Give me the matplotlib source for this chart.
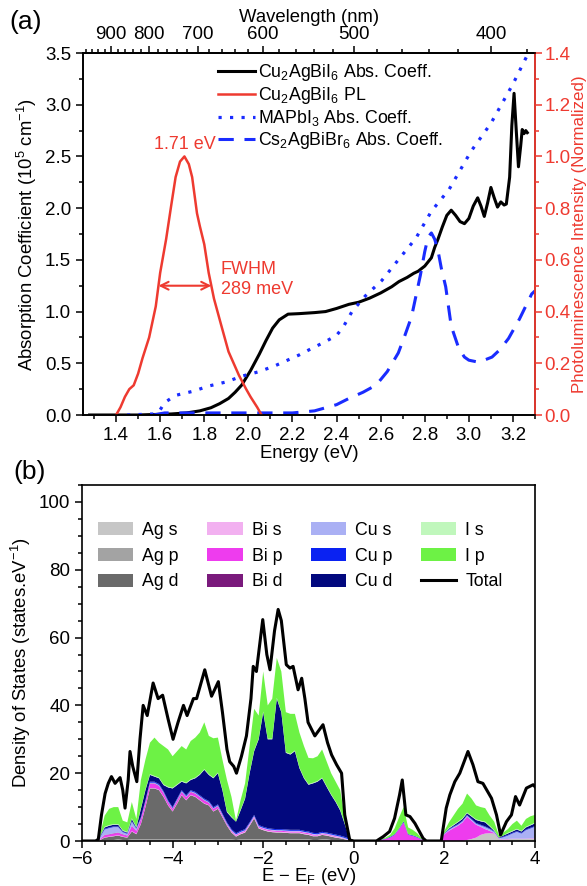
import numpy as np
import matplotlib
matplotlib.use("Agg")
import matplotlib.pyplot as plt
from matplotlib.ticker import MultipleLocator, FixedLocator, FormatStrFormatter

plt.rcParams['font.family'] = ['Liberation Sans', 'DejaVu Sans']
plt.rcParams['mathtext.fontset'] = 'custom'
plt.rcParams['mathtext.rm'] = 'Liberation Sans'
plt.rcParams['mathtext.it'] = 'Liberation Sans:italic'
plt.rcParams['mathtext.bf'] = 'Liberation Sans:bold'
plt.rcParams['mathtext.sf'] = 'Liberation Sans'
plt.rcParams['axes.linewidth'] = 1.2

RED = "#ee3a30"
BLUE = "#1a2cff"

# ---------------- (a) absorption / PL ----------------
cu_abs_e = [1.28, 1.50, 1.65, 1.72, 1.78, 1.83, 1.87, 1.91, 1.94, 1.97, 2.01, 2.05,
            2.08, 2.11, 2.14, 2.18, 2.23, 2.30, 2.35, 2.40, 2.456, 2.50, 2.55, 2.60,
            2.65, 2.683, 2.72, 2.75, 2.77, 2.80, 2.83, 2.845, 2.86, 2.88, 2.90, 2.92,
            2.94, 2.96, 2.98, 3.00, 3.02, 3.04, 3.055, 3.07, 3.085, 3.10, 3.115, 3.13,
            3.145, 3.16, 3.17, 3.185, 3.195, 3.205, 3.215, 3.225, 3.235, 3.242, 3.25,
            3.258, 3.265]
cu_abs_v = [0.0, 0.0, 0.01, 0.02, 0.04, 0.07, 0.11, 0.16, 0.22, 0.29, 0.43, 0.59,
            0.72, 0.84, 0.92, 0.975, 0.98, 0.99, 1.00, 1.03, 1.07, 1.09, 1.13, 1.18,
            1.24, 1.29, 1.33, 1.37, 1.39, 1.44, 1.52, 1.62, 1.70, 1.82, 1.93, 1.98,
            1.93, 1.87, 1.85, 1.90, 2.02, 2.10, 2.02, 1.92, 2.05, 2.20, 2.10, 2.01,
            2.06, 2.03, 2.04, 2.30, 2.80, 3.11, 2.75, 2.40, 2.60, 2.76, 2.72,
            2.75, 2.73]

pl_e = [1.40, 1.42, 1.44, 1.46, 1.48, 1.50, 1.52, 1.55, 1.58, 1.60, 1.627, 1.65,
        1.67, 1.69, 1.71, 1.73, 1.745, 1.767, 1.78, 1.80, 1.82, 1.844, 1.876, 1.91,
        1.957, 1.99, 2.01, 2.04, 2.06]
pl_v = [0.0, 0.03, 0.07, 0.10, 0.115, 0.16, 0.22, 0.30, 0.42, 0.55, 0.68, 0.81,
        0.92, 0.98, 1.0, 0.97, 0.92, 0.78, 0.73, 0.66, 0.55, 0.45, 0.35, 0.245,
        0.154, 0.10, 0.07, 0.03, 0.0]

mapi_e = [1.45, 1.57, 1.60, 1.62, 1.67, 1.75, 1.82, 1.90, 1.97, 2.05, 2.125, 2.23,
          2.275, 2.35, 2.40, 2.43, 2.47, 2.53, 2.605, 2.68, 2.76, 2.83, 2.91, 3.01,
          3.10, 3.20, 3.27]
mapi_v = [0.0, 0.01, 0.05, 0.12, 0.19, 0.23, 0.28, 0.32, 0.375, 0.42, 0.48, 0.58,
          0.63, 0.71, 0.77, 0.85, 1.0, 1.15, 1.30, 1.50, 1.71, 1.97, 2.18, 2.55,
          2.82, 3.20, 3.50]

csab_e = [1.57, 1.62, 1.80, 2.00, 2.20, 2.30, 2.40, 2.456, 2.52, 2.58, 2.63, 2.68,
          2.71, 2.74, 2.76, 2.78, 2.80, 2.815, 2.83, 2.845, 2.86, 2.875, 2.895, 2.92,
          2.955, 2.98, 3.00, 3.045, 3.105, 3.14, 3.18, 3.23, 3.285, 3.30]
csab_v = [0.0, 0.02, 0.02, 0.02, 0.02, 0.04, 0.10, 0.16, 0.22, 0.29, 0.42, 0.60,
          0.77, 0.95, 1.15, 1.35, 1.58, 1.72, 1.76, 1.70, 1.59, 1.42, 1.24, 0.86,
          0.64, 0.56, 0.53, 0.51, 0.56, 0.63, 0.74, 0.93, 1.17, 1.20]

pl_peak = 1.71

# ---------------- (b) projected DOS ----------------
dos_e = np.round(np.linspace(-6.0, 4.0, 101), 1)

ag_s = ([0.0] * 4 +
        [0.1, 0.2, 0.2, 0.2, 0.2, 0.2, 0.2, 0.2, 0.2, 0.2, 0.2, 0.2, 0.2, 0.2,
         0.2, 0.2, 0.2, 0.2, 0.2, 0.2, 0.2, 0.2, 0.2, 0.2, 0.2, 0.2, 0.2, 0.2,
         0.2, 0.2, 0.2, 0.2, 0.2, 0.2, 0.2, 0.2, 0.2, 0.2, 0.2, 0.2, 0.2, 0.2,
         0.2, 0.2, 0.2, 0.2, 0.2, 0.2, 0.2, 0.2, 0.2, 0.2, 0.2, 0.2, 0.2, 0.1] +
        [0.0] * 20 +
        [0.0, 0.0, 0.0, 0.0, 0.0, 0.3, 0.6, 1.0, 1.8, 2.2, 2.3, 2.2, 0.6, 0.4,
         0.5, 0.6, 0.6, 0.6, 0.6, 0.7, 0.7])
ag_p = ([0.0] * 4 +
        [0.1, 0.1, 0.1, 0.1, 0.3, 0.1, 0.1, 0.3, 0.3, 0.3, 0.3, 0.3, 0.3, 0.3,
         0.3, 0.3, 0.3, 0.3, 0.3, 0.3, 0.3, 0.3, 0.3, 0.3, 0.3, 0.3, 0.3, 0.3,
         0.3, 0.3, 0.1, 0.3, 0.3, 0.3, 0.3, 0.3, 0.3, 0.3, 0.3, 0.3, 0.3, 0.3,
         0.3, 0.3, 0.3, 0.3, 0.3, 0.1, 0.1, 0.3, 0.3, 0.1, 0.1, 0.1, 0.1, 0.0] +
        [0.0] * 41)
ag_d = ([0.0] * 4 +
        [0.1, 0.7, 0.9, 1.1, 1.1, 0.9, 0.7, 2.3, 1.5, 4.5, 9.5, 15.0, 15.0, 14.5,
         12.5, 10.0, 8.2, 10.5, 13.0, 11.5, 13.0, 12.5, 11.5, 10.5, 10.0, 8.2, 9.0, 6.5,
         4.0, 2.0, 1.0, 1.5, 2.0, 4.0, 6.2, 3.2, 2.7, 2.3, 2.1, 2.0, 2.0, 1.9,
         1.8, 1.8, 1.8, 1.5, 1.3, 1.1, 1.1, 1.3, 1.1, 1.0, 0.7, 0.5, 0.2, 0.0] +
        [0.0] * 41)
bi_s = ([0.0] * 4 +
        [0.1, 0.1, 0.1, 0.1, 0.1, 0.1, 0.1, 0.1, 0.1, 0.1, 0.1, 0.1, 0.1, 0.1,
         0.1, 0.1, 0.1, 0.1, 0.1, 0.1, 0.1, 0.1, 0.1, 0.1, 0.1, 0.1, 0.1, 0.1,
         0.1, 0.2, 0.2, 0.2, 0.2, 0.2, 0.2, 0.2, 0.2, 0.2, 0.2, 0.2, 0.2, 0.2,
         0.2, 0.2, 0.2, 0.2, 0.2, 0.2, 0.2, 0.2, 0.2, 0.2, 0.2, 0.2, 0.1, 0.1] +
        [0.0] * 41)
bi_p = ([0.0] * 4 +
        [0.2, 0.6, 0.6, 0.7, 0.7, 0.6, 0.4, 1.5, 0.8, 1.3, 1.3, 1.3, 1.3, 1.1,
         1.0, 0.8, 0.6, 0.8, 0.8, 0.8, 0.8, 0.8, 0.8, 0.8, 0.6, 0.6, 0.6, 0.4,
         0.3, 0.3, 0.3, 0.3, 0.3, 0.3, 0.3, 0.3, 0.3, 0.3, 0.3, 0.3, 0.3, 0.3,
         0.3, 0.3, 0.3, 0.3, 0.3, 0.3, 0.2, 0.2, 0.2, 0.2, 0.2, 0.1, 0.1, 0.0] +
        [0.0] * 6 +
        [0.3, 0.6, 1.0, 1.8, 3.5, 5.5, 1.8, 1.5, 1.0, 0.4] +
        [0.0] * 4 +
        [2.0, 3.0, 3.8, 4.5, 5.5, 6.9, 5.4, 3.8, 2.4, 1.3, 0.7, 0.2, 0.1, 0.1,
         0.1, 0.1, 0.1, 0.1, 0.1, 0.1, 0.1])
bi_d = ([0.0] * 4 +
        [0.0, 0.1, 0.1, 0.1, 0.1, 0.1, 0.1, 0.1, 0.1, 0.1, 0.1, 0.1, 0.1, 0.1,
         0.1, 0.1, 0.1, 0.1, 0.1, 0.1, 0.1, 0.1, 0.1, 0.1, 0.1, 0.1, 0.1, 0.1,
         0.1, 0.0, 0.0, 0.0, 0.0, 0.0, 0.0, 0.0, 0.0, 0.0, 0.0, 0.0, 0.0, 0.0,
         0.0, 0.0, 0.0, 0.0, 0.0, 0.0, 0.0, 0.0, 0.0, 0.0, 0.0, 0.0, 0.0, 0.0] +
        [0.0] * 41)
cu_s = ([0.0] * 4 +
        [0.6, 1.6, 1.8, 1.8, 1.6, 0.6, 0.5, 1.2, 0.6, 0.2, 0.2, 0.2, 0.2, 0.2,
         0.2, 0.2, 0.2, 0.2, 0.2, 0.2, 0.2, 0.2, 0.2, 0.2, 0.2, 0.2, 0.2, 0.2,
         0.2, 0.2, 0.2, 0.2, 0.2, 0.2, 0.2, 0.2, 0.2, 0.2, 0.2, 0.2, 0.2, 0.2,
         0.2, 0.2, 0.2, 0.2, 0.2, 0.2, 0.2, 0.2, 0.2, 0.2, 0.2, 0.2, 0.2, 0.2] +
        [0.0] * 20 +
        [0.1, 0.3, 0.3, 0.3, 0.3, 0.3, 0.3, 0.3, 0.4, 0.6, 0.5, 0.3, 0.1, 0.6,
         1.0, 1.5, 2.0, 1.5, 2.5, 2.9, 3.4])
cu_p = ([0.0] * 4 +
        [0.2, 0.2, 0.2, 0.2, 0.2, 0.2, 0.2, 0.2, 0.2, 0.3, 0.3, 0.3, 0.3, 0.3,
         0.3, 0.3, 0.3, 0.3, 0.3, 0.3, 0.3, 0.3, 0.3, 0.3, 0.3, 0.3, 0.3, 0.3,
         0.3, 0.3, 0.3, 0.3, 0.3, 0.3, 0.3, 0.3, 0.3, 0.3, 0.3, 0.3, 0.3, 0.3,
         0.3, 0.3, 0.3, 0.3, 0.3, 0.3, 0.3, 0.3, 0.3, 0.3, 0.3, 0.3, 0.3, 0.3] +
        [0.0] * 6 +
        [0.1, 0.1, 0.2, 0.2, 0.2, 0.3, 0.2, 0.2, 0.2, 0.1] +
        [0.0] * 4 +
        [0.1, 0.2, 0.2, 0.2, 0.2, 0.2, 0.2, 0.2, 0.2, 0.2, 0.2, 0.2, 0.1, 0.2,
         0.2, 0.2, 0.2, 0.2, 0.2, 0.2, 0.2])
cu_d = ([0.0] * 4 +
        [0.1, 0.4, 0.5, 0.5, 0.5, 0.2, 0.2, 0.6, 0.2, 2.5, 3.0, 2.0, 1.5, 1.7,
         1.8, 3.8, 5.5, 4.0, 2.5, 3.5, 3.0, 4.0, 6.0, 8.5, 7.7, 8.5, 9.2, 6.9,
         3.0, 3.5, 3.4, 6.0, 9.0, 14.5, 18.8, 25.3, 33.8, 26.2, 26.4, 38.5, 34.5, 22.6,
         22.2, 23.2, 18.2, 15.5, 13.8, 14.6, 15.2, 15.8, 13.5, 11.4, 9.6, 7.4, 3.8, 0.1] +
        [0.0] * 20 +
        [0.1, 0.2, 0.3, 0.5, 0.5, 0.5, 0.7, 0.9, 1.0, 1.2, 0.6, 0.1, 0.1, 0.3,
         0.4, 0.4, 0.5, 0.4, 0.6, 0.7, 0.8])
i_s = ([0.0] * 4 +
       [0.0, 0.2, 0.2, 0.2, 0.2, 0.2, 0.2, 0.2, 0.2, 0.2, 0.2, 0.2, 0.2, 0.2,
        0.2, 0.2, 0.2, 0.2, 0.2, 0.2, 0.2, 0.2, 0.2, 0.2, 0.2, 0.2, 0.2, 0.2,
        0.2, 0.2, 0.0, 0.2, 0.2, 0.2, 0.2, 0.2, 0.2, 0.2, 0.2, 0.2, 0.2, 0.2,
        0.2, 0.2, 0.2, 0.2, 0.2, 0.2, 0.2, 0.2, 0.2, 0.2, 0.2, 0.2, 0.2, 0.0] +
       [0.0] * 20 +
       [0.0, 0.2, 0.2, 0.2, 0.2, 0.2, 0.2, 0.2, 0.2, 0.2, 0.2, 0.2, 0.0, 0.0,
        0.2, 0.2, 0.2, 0.2, 0.2, 0.2, 0.2])
i_p = ([0.0] * 4 +
       [0.5, 3.3, 4.8, 5.0, 5.0, 2.8, 2.8, 4.8, 2.3, 8.3, 8.8, 9.3, 11.3, 10.3,
        11.3, 11.0, 9.3, 9.8, 10.3, 9.8, 11.3, 11.8, 12.3, 13.8, 11.3, 11.6, 10.3, 8.8,
        9.3, 5.8, 0.3, 2.8, 4.3, 7.8, 12.3, 6.8, 11.8, 9.8, 11.8, 11.8, 11.8, 11.8,
        11.8, 10.8, 10.3, 9.3, 7.7, 7.2, 7.3, 8.3, 7.3, 6.2, 5.8, 5.8, 1.8, 0.2] +
       [0.0] * 6 +
       [0.2, 0.3, 0.6, 1.7, 3.3, 4.2, 2.0, 1.6, 1.1, 0.2] +
       [0.0] * 4 +
       [0.7, 1.6, 2.7, 3.8, 4.3, 5.6, 5.1, 4.1, 4.0, 4.0, 3.0, 2.5, 0.8, 0.9,
        1.1, 2.0, 2.4, 1.5, 2.3, 2.5, 2.3])

tot_e = [-6.0, -5.7, -5.64, -5.57, -5.49, -5.42, -5.35, -5.27, -5.16, -5.1, -5.05,
         -4.98, -4.94, -4.88, -4.79, -4.72, -4.65, -4.56, -4.43, -4.32, -4.22, -4.1,
         -3.99, -3.88, -3.76, -3.68, -3.54, -3.47, -3.29, -3.14, -2.99, -2.9, -2.8,
         -2.74, -2.65, -2.59, -2.48, -2.37, -2.27, -2.22, -2.15, -2.01, -1.92, -1.85,
         -1.75, -1.67, -1.6, -1.49, -1.41, -1.34, -1.23, -1.15, -1.08, -1.01, -0.86,
         -0.68, -0.58, -0.49, -0.38, -0.27, -0.2, -0.09, 0.0, 0.5, 0.65, 0.79, 0.9,
         1.01, 1.07, 1.15, 1.24, 1.35, 1.53, 1.6, 1.93, 2.04, 2.12, 2.23, 2.34, 2.52,
         2.63, 2.74, 2.85, 3.04, 3.15, 3.24, 3.37, 3.48, 3.57, 3.66, 3.81, 3.96, 4.0]
tot_v = [0.0, 0.0, 0.5, 7.7, 14.0, 17.0, 19.0, 17.0, 18.7, 15.0, 9.7,
         18.0, 26.4, 22.0, 17.5, 30.0, 40.0, 37.0, 46.6, 42.0, 43.0, 36.0,
         30.0, 35.0, 40.0, 37.0, 42.0, 42.0, 50.5, 42.7, 47.0, 38.0, 27.0,
         23.4, 22.0, 20.0, 25.0, 31.0, 42.0, 51.5, 50.0, 65.3, 55.0, 50.5,
         62.0, 68.3, 65.0, 52.0, 51.0, 51.5, 44.6, 48.0, 42.0, 35.0, 31.0,
         34.3, 29.0, 25.4, 22.5, 20.0, 7.7, 0.3, 0.0, 0.0, 1.3, 2.8, 6.7,
         13.6, 18.0, 7.7, 7.2, 5.2, 0.8, 0.0, 0.0, 9.7, 13.6, 17.5, 20.0, 26.4,
         22.5, 17.5, 17.0, 12.6, 7.7, 1.8, 5.7, 7.7, 13.1, 10.6, 15.6, 16.6, 16.0]

pdos_labels = ["Ag s", "Ag p", "Ag d", "Bi s", "Bi p", "Bi d",
               "Cu s", "Cu p", "Cu d", "I s", "I p"]
pdos_colors = ["#c6c6c6", "#a3a3a3", "#6a6a6a", "#f2b0f0", "#ee3cee", "#7a1a7c",
               "#aab0f4", "#0a22f2", "#02087e", "#c0f7bc", "#6df245"]

fig = plt.figure(figsize=(5.87, 8.86), dpi=100)
W, H = 587.0, 886.0

# ---- panel (a)
axa = fig.add_axes([83 / W, 1 - 415 / H, 452 / W, 362 / H])
axr = axa.twinx()

l1, = axa.plot(cu_abs_e, cu_abs_v, color="black", lw=2.2,
               label="Cu$_2$AgBiI$_6$ Abs. Coeff.")
l3, = axa.plot(mapi_e, mapi_v, color=BLUE, lw=2.3, linestyle=(0, (1, 2.6)),
               label="MAPbI$_3$ Abs. Coeff.")
l4, = axa.plot(csab_e, csab_v, color=BLUE, lw=2.2, linestyle=(0, (5, 3.5)),
               label="Cs$_2$AgBiBr$_6$ Abs. Coeff.")
l2, = axr.plot(pl_e, pl_v, color=RED, lw=1.8, label="Cu$_2$AgBiI$_6$ PL")

axa.set_xlim(1.25, 3.3)
axa.set_ylim(0, 3.5)
axr.set_ylim(0, 1.4)

axa.xaxis.set_major_locator(MultipleLocator(0.2))
axa.xaxis.set_minor_locator(MultipleLocator(0.1))
axa.xaxis.set_major_formatter(FormatStrFormatter("%.1f"))
axa.yaxis.set_major_locator(MultipleLocator(0.5))
axa.yaxis.set_minor_locator(MultipleLocator(0.25))
axa.yaxis.set_major_formatter(FormatStrFormatter("%.1f"))
axr.yaxis.set_major_locator(MultipleLocator(0.2))
axr.yaxis.set_minor_locator(MultipleLocator(0.1))
axr.yaxis.set_major_formatter(FormatStrFormatter("%.1f"))

for a in (axa, axr):
    a.tick_params(which="both", direction="out", labelsize=13.5, width=1.1)
    a.tick_params(which="major", length=5)
    a.tick_params(which="minor", length=3)
axa.tick_params(axis="y", which="both", right=False)
axr.tick_params(axis="y", which="both", colors=RED, pad=2)
axr.spines["right"].set_color(RED)
axr.spines["right"].set_linewidth(1.3)

axa.set_xlabel("Energy (eV)", fontsize=13.3, labelpad=1)
axa.set_ylabel("Absorption Coefficient (10$^5$ cm$^{-1}$)", fontsize=13.3, labelpad=4)
axr.set_ylabel("Photoluminescence Intensity (Normalized)", fontsize=12.2,
               color=RED, labelpad=1)

hc = 1239.84


def ev_to_nm(x):
    x = np.asarray(x, dtype=float)
    with np.errstate(divide="ignore"):
        return hc / x


top = axa.secondary_xaxis("top", functions=(ev_to_nm, ev_to_nm))
top.xaxis.set_major_locator(FixedLocator([400, 500, 600, 700, 800, 900]))
top.xaxis.set_minor_locator(FixedLocator(list(range(380, 1000, 20))))
top.xaxis.set_major_formatter(FormatStrFormatter("%d"))
top.tick_params(which="both", direction="out", labelsize=13.5, width=1.1, pad=2)
top.tick_params(which="major", length=5)
top.tick_params(which="minor", length=3)
top.set_xlabel("Wavelength (nm)", fontsize=13.3, labelpad=3)

# PL peak label and FWHM arrow from the curve's half-maximum crossings
pl_e_arr = np.array(pl_e)
pl_v_arr = np.array(pl_v)
ipk = int(np.argmax(pl_v_arr))
half = pl_v_arr[ipk] / 2
x_lo = np.interp(half, pl_v_arr[:ipk + 1], pl_e_arr[:ipk + 1])
x_hi = np.interp(half, pl_v_arr[ipk:][::-1], pl_e_arr[ipk:][::-1])
axr.annotate("", xy=(x_lo, half), xytext=(x_hi, half),
             arrowprops=dict(arrowstyle="<->", color=RED, lw=1.5,
                             shrinkA=0, shrinkB=0, mutation_scale=14))
axr.text(pl_peak, 1.045, f"{pl_peak:.2f} eV", color=RED, fontsize=13,
         ha="center", va="center")
axr.text(1.875, 0.525, "FWHM\n289 meV", color=RED, fontsize=13,
         ha="left", va="center")

leg = axr.legend(handles=[l1, l2, l3, l4], loc="upper left",
                 bbox_to_anchor=(0.298, 0.975), frameon=False, fontsize=12.8,
                 handlelength=2.1, handletextpad=0.15, labelspacing=0.12,
                 borderpad=0, borderaxespad=0)

# ---- panel (b)
axb = fig.add_axes([82 / W, 1 - 841 / H, 453 / W, 356 / H])
axb.stackplot(dos_e, ag_s, ag_p, ag_d, bi_s, bi_p, bi_d, cu_s, cu_p, cu_d, i_s, i_p,
              colors=pdos_colors, labels=pdos_labels, linewidth=0)
axb.plot(tot_e, tot_v, color="black", lw=2.2, label="Total")

axb.set_xlim(-6, 4)
axb.set_ylim(0, 105)
axb.xaxis.set_major_locator(MultipleLocator(2))
axb.xaxis.set_minor_locator(MultipleLocator(0.5))
axb.yaxis.set_major_locator(MultipleLocator(20))
axb.yaxis.set_minor_locator(MultipleLocator(5))
axb.tick_params(which="both", direction="out", labelsize=13.5, width=1.1,
                top=False, right=False)
axb.tick_params(which="major", length=5)
axb.tick_params(which="minor", length=3)
axb.tick_params(axis="x", pad=2)
axb.set_xlabel("E $-$ E$_\\mathregular{F}$ (eV)", fontsize=13.3, labelpad=-1)
axb.set_ylabel("Density of States (states.eV$^{-1}$)", fontsize=13.3, labelpad=4)

axb.legend(loc="upper left", bbox_to_anchor=(0.035, 0.897), ncol=4, frameon=False,
           fontsize=12.8, handlelength=2.0, handleheight=0.75, handletextpad=0.5,
           labelspacing=0.5, columnspacing=1.6, borderpad=0, borderaxespad=0)

fig.text(26 / W, 1 - 22 / H, "(a)", fontsize=19, ha="center", va="center")
fig.text(30 / W, 1 - 472 / H, "(b)", fontsize=19, ha="center", va="center")

fig.savefig("out.png", dpi=100, facecolor="white")
